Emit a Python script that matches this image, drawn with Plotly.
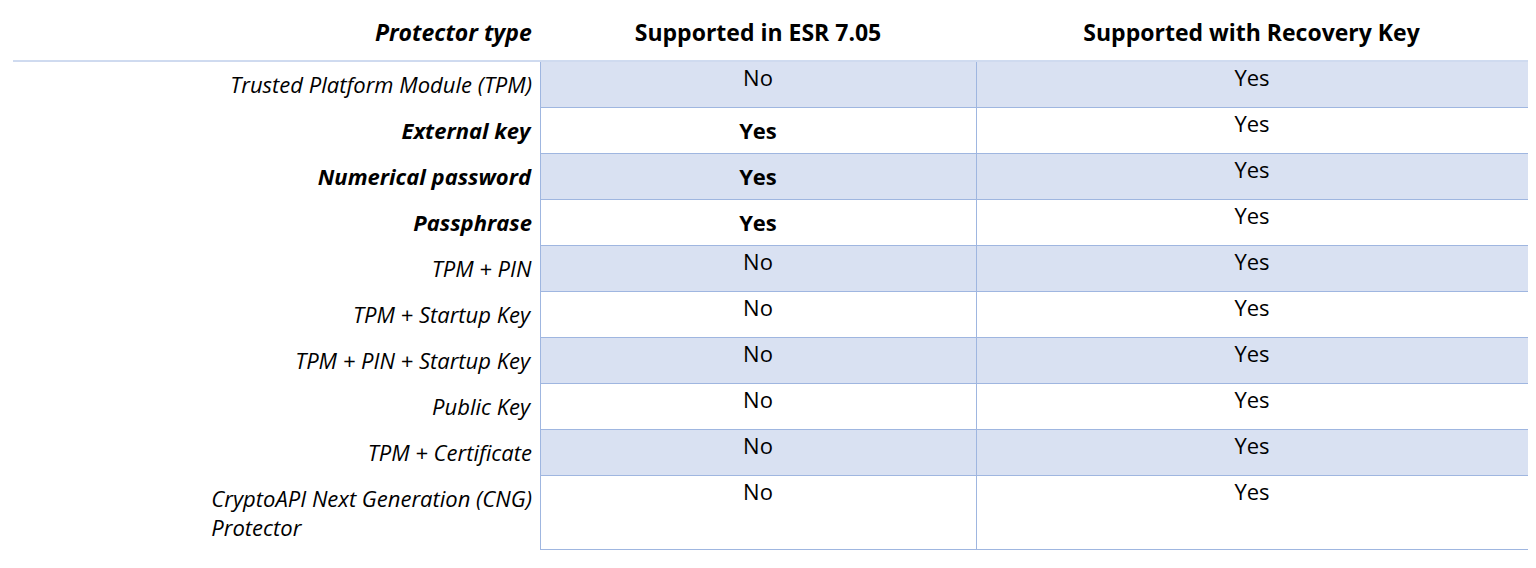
import plotly.graph_objects as go

headers = ["<b><i>Protector type</i></b>", "<b>Supported in ESR 7.05</b>", "<b>Supported with Recovery Key</b>"]
protectors = ["<i>Trusted Platform Module (TPM)</i>", "<b><i>External key</i></b>",
              "<b><i>Numerical password</i></b>", "<b><i>Passphrase</i></b>",
              "<i>TPM + PIN</i>", "<i>TPM + Startup Key</i>", "<i>TPM + PIN + Startup Key</i>",
              "<i>Public Key</i>", "<i>TPM + Certificate</i>",
              "<i>CryptoAPI Next Generation (CNG)<br>Protector</i>"]
esr705 = ["No", "<b>Yes</b>", "<b>Yes</b>", "<b>Yes</b>", "No", "No", "No", "No", "No", "No"]
recovery = ["Yes"] * 10

blue = "#D9E1F2"
edge = "#9FB6E0"
band = [blue if i % 2 == 0 else "white" for i in range(len(protectors))]

W, H = 1536, 568
fig = go.Figure(go.Table(
    domain=dict(x=[5 / W, 1520 / W], y=[0, 1]),
    columnwidth=[527, 436, 552],
    header=dict(values=headers, align=["right", "center", "center"],
                fill_color="white", line=dict(color="white", width=1),
                font=dict(family="Open Sans", size=23, color="black"), height=53),
    cells=dict(values=[protectors, esr705, recovery],
               align=["right", "center", "center"],
               fill_color=[["white"] * len(protectors), band, band],
               line=dict(color=["white", edge, edge], width=1),
               font=dict(family="Open Sans", size=22, color="black"), height=45),
))
fig.add_shape(type="line", xref="paper", yref="paper", x0=5 / W, x1=1520 / W,
              y0=1 - 53 / H, y1=1 - 53 / H, line=dict(color=edge, width=1))
fig.update_layout(width=W, height=H, margin=dict(l=0, r=0, t=0, b=0),
                  paper_bgcolor="white")
fig.write_html("out.html")
